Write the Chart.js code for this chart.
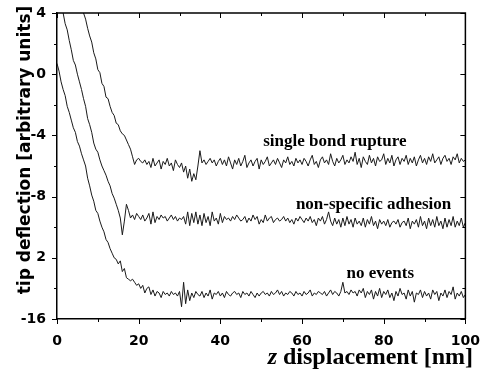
<!DOCTYPE html>
<html>
<head>
<meta charset="utf-8">
<script src="https://cdn.jsdelivr.net/npm/chart.js@4"></script>
<style>
  html, body { margin: 0; padding: 0; background: #fff; }
  canvas { display: block; }
</style>
</head>
<body>
<canvas id="forceCurves" width="486" height="376"></canvas>
<script>
// z displacement grid [nm], one sample every 0.5 nm
var zNm = [];
for (var i = 0; i <= 200; i++) zNm.push(i / 2);

// tip deflection (arbitrary units)
var bondRupture = [
  null, null, null, null, null, null, null, null, null, null, null,
  5.1, 4.6, 4.0, 3.6, 3.0, 2.5, 2.1, 1.4, 1.0, 0.3,
  0.1, -0.6, -0.8, -1.5, -1.6, -2.1, -2.5, -2.7, -3.2, -3.3,
  -3.7, -3.9, -4.0, -4.3, -4.6, -4.9, -5.4, -5.9, -5.6,
  -5.5, -5.7, -5.8, -5.6, -5.9, -5.7, -6.1, -5.5, -6.0, -5.8,
  -5.6, -6.2, -5.7, -5.9, -5.5, -6.0, -5.8, -6.3, -5.6, -5.9,
  -6.1, -5.8, -6.4, -6.0, -6.8, -6.2, -7.0, -6.5, -6.9, -6.0,
  -5.0, -5.8, -5.6, -5.9, -5.7, -5.5, -5.8, -5.6, -6.0, -5.7,
  -5.5, -5.9, -5.6, -6.0, -5.4, -5.8, -6.2, -5.6, -5.9, -5.5,
  -6.0, -5.7, -5.3, -6.1, -5.8, -5.6, -6.0, -5.7, -5.5, -6.2,
  -5.6, -5.9, -5.7, -5.4, -6.0, -5.8, -5.6, -5.9, -5.5, -5.8,
  -6.1, -5.6, -5.8, -5.4, -5.9, -5.7, -6.0, -5.5, -5.8, -5.6,
  -5.9, -5.5, -5.7, -6.0, -5.6, -5.3, -5.9, -5.7, -6.1, -5.6,
  -5.4, -5.8, -5.6, -5.9, -5.2, -5.7, -6.0, -5.5, -5.8, -5.6,
  -5.3, -5.9, -5.6, -5.8, -5.4, -5.7, -5.1, -5.9, -5.5, -6.1,
  -5.4, -5.7, -5.9, -5.3, -5.8, -5.5, -6.0, -5.4, -5.7, -5.6,
  -5.2, -5.9, -5.5, -5.8, -5.3, -6.0, -5.6, -5.4, -5.9, -5.5,
  -5.7, -5.3, -5.9, -5.5, -5.8, -5.4, -6.0, -5.6, -5.3, -5.8,
  -5.5, -5.9, -5.4, -5.7, -5.2, -5.8, -5.6, -5.4, -5.9, -5.5,
  -5.3, -5.7, -5.5, -5.9, -5.4, -5.6, -5.2, -5.8, -5.5, -5.7,
  -5.6
];

var nonSpecific = [
  6.0, 5.4, 4.6, 4.0, 3.3, 2.9, 2.2, 1.6, 0.9, 0.6,
  0.0, -0.5, -1.0, -1.6, -2.1, -2.9, -3.3, -3.8, -4.5, -4.9,
  -5.1, -5.6, -6.0, -6.3, -6.6, -7.0, -7.3, -7.8, -8.1, -8.5,
  -8.9, -9.4, -10.5, -9.6, -8.5, -8.9, -9.4, -9.2, -9.5, -9.1,
  -9.3, -9.5, -9.2, -9.6, -9.4, -9.1, -9.8, -9.0, -9.7, -9.3,
  -9.5, -9.2, -9.4, -9.3, -9.6, -9.4, -9.2, -9.5, -9.3, -9.6,
  -9.4, -9.5, -9.3, -9.8, -9.0, -9.9, -9.1, -9.7, -9.0, -9.8,
  -9.2, -9.9, -9.1, -9.7, -9.3, -9.9, -9.0, -9.6, -9.4, -9.8,
  -9.1, -9.7, -9.3, -9.5, -9.4, -9.6, -9.3, -9.5, -9.2, -9.4,
  -9.6, -9.5, -9.3, -9.7, -9.4, -9.6, -9.2, -9.5, -9.3, -9.8,
  -9.5, -9.7, -9.2, -9.6, -9.4, -9.3, -9.7, -9.5, -9.4, -9.6,
  -9.5, -9.3, -9.6, -9.4, -9.7, -9.5, -9.8, -9.4, -9.6, -9.3,
  -9.5, -9.7, -9.4, -9.6, -9.3, -9.7, -9.5, -9.9, -9.4, -9.6,
  -9.3, -9.8, -9.5, -9.0, -9.6, -9.9, -9.4, -9.8, -9.5, -10.0,
  -9.4, -9.9, -9.3, -9.8, -9.5, -10.0, -9.4, -9.8, -9.6, -9.9,
  -9.4, -10.0, -9.5, -9.8, -9.3, -9.9, -9.6, -10.1, -9.5, -9.8,
  -9.6, -9.9, -9.5, -10.0, -9.7, -9.6, -9.8, -9.5, -10.0, -9.7,
  -9.6, -9.9, -9.4, -10.1, -9.6, -9.8, -9.5, -10.0, -9.3, -9.9,
  -9.6, -10.1, -9.4, -9.9, -9.5, -10.0, -9.3, -9.9, -9.6, -10.1,
  -9.4, -10.0, -9.5, -9.9, -9.3, -10.0, -9.6, -9.9, -9.4, -10.0,
  -9.7
];

var noEvents = [
  0.7, 0.2, -0.5, -1.0, -1.4, -2.1, -2.5, -3.0, -3.5, -3.8,
  -4.4, -4.7, -5.2, -5.6, -6.0, -6.8, -7.3, -7.9, -8.3, -8.9,
  -9.1, -9.6, -10.0, -10.3, -10.8, -11.0, -11.4, -11.7, -12.0, -12.1,
  -12.4, -12.2, -12.9, -12.7, -13.3, -13.4, -13.5, -13.4, -13.6, -13.8,
  -13.7, -14.0, -13.8, -14.3, -14.0, -13.9, -14.4, -14.1, -14.5, -14.2,
  -14.3, -14.6, -14.2, -14.4, -14.3, -14.5, -14.2, -14.4, -14.3, -14.5,
  -14.2, -15.2, -13.6, -15.0, -14.1, -14.8, -14.3, -14.6, -14.2, -14.4,
  -14.5, -14.2, -14.6, -14.3, -14.5, -14.1, -14.7, -14.3, -14.4, -14.2,
  -14.5, -14.3, -14.6, -14.2, -14.4, -14.5, -14.3, -14.2, -14.4, -14.3,
  -14.6, -14.2, -14.4, -14.3, -14.5, -14.2, -14.4, -14.6, -14.3, -14.5,
  -14.3, -14.2, -14.4, -14.3, -14.5, -14.2, -14.4, -14.3, -14.1, -14.4,
  -14.2, -14.5, -14.3, -14.4, -14.2, -14.3, -14.5, -14.2, -14.4, -14.3,
  -14.5, -14.2, -14.4, -14.3, -14.1, -14.5, -14.3, -14.4, -14.2, -14.3,
  -14.4, -14.2, -14.5, -14.3, -14.1, -14.4, -14.2, -14.3, -14.5, -14.2,
  -13.6, -14.3, -14.2, -14.4, -14.1, -14.3, -14.2, -14.5, -14.1, -14.3,
  -14.0, -14.6, -14.2, -14.4, -14.1, -14.7, -14.2, -14.5, -14.0, -14.6,
  -14.2, -14.4, -14.1, -14.6, -14.3, -14.8, -14.2, -14.5, -14.0, -14.4,
  -14.3, -14.7, -14.1, -14.5, -14.2, -14.9, -14.3, -14.4, -14.1, -14.6,
  -14.2, -14.5, -14.3, -14.7, -14.1, -14.4, -14.2, -14.8, -14.3, -14.5,
  -14.1, -14.6, -14.2, -14.4, -13.9, -14.7, -14.3, -14.5, -14.2, -14.6,
  -14.4
];

var curveNames = ['single bond rupture', 'non-specific adhesion', 'no events'];
var xLabelValues = [0, 20, 40, 60, 80, 100];
var yLabelValues = [4, 0, -4, -8, -12, -16];
var yLabelText = ['4', '0', '-4', '-8', '2', '-16'];

// where each curve name sits (data units: left edge, vertical middle)
var nameAnchors = [[50.5, -4.4], [58.5, -8.55], [70.9, -13.06]];

function toPoints(values) {
  return zNm.map(function (z, i) { return { x: z, y: values[i] }; });
}

function curve(values) {
  return {
    data: toPoints(values),
    borderColor: '#1a1a1a',
    borderWidth: 1,
    pointRadius: 0,
    tension: 0,
    fill: false
  };
}

var tickFont = { family: 'DejaVu Sans', size: 14, weight: 'bold' };

var frameAndText = {
  id: 'frameAndText',
  afterDraw: function (chart) {
    var c = chart.ctx, a = chart.chartArea;
    var xs = chart.scales.x, ys = chart.scales.y;
    c.save();
    c.strokeStyle = '#000';
    c.lineWidth = 1.5;
    c.beginPath();
    c.moveTo(a.left, a.top); c.lineTo(a.right, a.top); c.lineTo(a.right, a.bottom);
    c.stroke();

    c.lineWidth = 1;
    c.beginPath();
    xs.ticks.forEach(function (t) {
      var px = Math.round(xs.getPixelForValue(t.value)) + 0.5;
      var len = t.value % 20 === 0 ? 5 : 3;
      c.moveTo(px, a.bottom); c.lineTo(px, a.bottom + len);
      c.moveTo(px, a.top); c.lineTo(px, a.top + len);
    });
    ys.ticks.forEach(function (t) {
      var py = Math.round(ys.getPixelForValue(t.value)) + 0.5;
      var len = t.value % 4 === 0 ? 5 : 3;
      c.moveTo(a.left, py); c.lineTo(a.left - len, py);
      c.moveTo(a.right, py); c.lineTo(a.right - len, py);
    });
    c.stroke();

    // curve names
    c.fillStyle = '#000';
    c.font = 'bold 17px "Liberation Serif"';
    c.textAlign = 'left';
    c.textBaseline = 'middle';
    curveNames.forEach(function (name, k) {
      c.fillText(name, xs.getPixelForValue(nameAnchors[k][0]), ys.getPixelForValue(nameAnchors[k][1]));
    });

    // x title, italic z
    c.textBaseline = 'alphabetic';
    var rest = ' displacement [nm]';
    c.font = 'bold 24px "Liberation Serif"';
    var wRest = c.measureText(rest).width;
    c.font = 'italic bold 24px "Liberation Serif"';
    var wz = c.measureText('z').width;
    var xEnd = 473;
    c.fillText('z', xEnd - wRest - wz, 364);
    c.font = 'bold 24px "Liberation Serif"';
    c.fillText(rest, xEnd - wRest, 364);

    // y title
    c.translate(30, 150);
    c.rotate(-Math.PI / 2);
    c.textAlign = 'center';
    c.font = 'bold 17px "DejaVu Sans"';
    c.fillText('tip deflection [arbitrary units]', 0, 0);
    c.restore();
  }
};

new Chart(document.getElementById('forceCurves').getContext('2d'), {
  type: 'line',
  data: {
    datasets: [curve(bondRupture), curve(nonSpecific), curve(noEvents)]
  },
  options: {
    responsive: false,
    animation: false,
    layout: { padding: { top: 13, right: 17, left: 0, bottom: 0 } },
    plugins: {
      legend: { display: false },
      tooltip: { enabled: false }
    },
    scales: {
      x: {
        type: 'linear',
        min: 0,
        max: 100,
        grid: { display: false },
        border: { display: true, color: '#000', width: 1.5 },
        ticks: {
          stepSize: 10,
          autoSkip: false,
          maxRotation: 0,
          padding: 6,
          color: '#000',
          font: tickFont,
          callback: function (v) { return xLabelValues.indexOf(v) >= 0 ? String(v) : ''; }
        },
        afterFit: function (s) { s.height = 57; }
      },
      y: {
        type: 'linear',
        min: -16,
        max: 4,
        grid: { display: false },
        border: { display: true, color: '#000', width: 1.5 },
        ticks: {
          stepSize: 2,
          autoSkip: false,
          padding: 3,
          color: '#000',
          font: tickFont,
          callback: function (v) {
            var k = yLabelValues.indexOf(v);
            return k >= 0 ? yLabelText[k] : '';
          }
        },
        afterFit: function (s) { s.width = 57; }
      }
    }
  },
  plugins: [frameAndText]
});
</script>
</body>
</html>
